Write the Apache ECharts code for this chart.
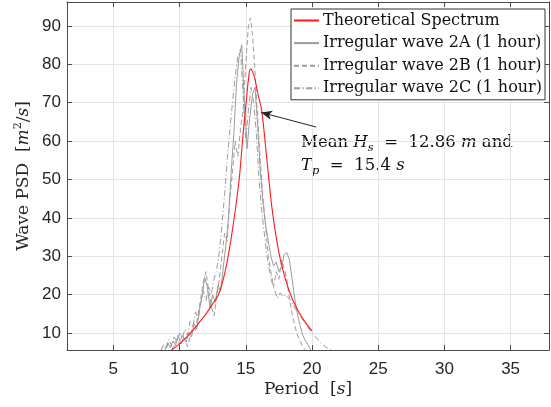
<!DOCTYPE html>
<html>
<head>
<meta charset="utf-8">
<script src="https://cdn.jsdelivr.net/npm/echarts@6/dist/echarts.min.js"></script>
<style>
  html, body { margin: 0; padding: 0; background: #fff; }
  #chart { width: 551px; height: 407px; }
</style>
</head>
<body>
<div id="chart"></div>
<script>
// Axis extents and tick positions
const periodRange = [1.5, 37.9];
const psdRange = [5.6, 96.2];
const periodTicks = [5, 10, 15, 20, 25, 30, 35];
const psdTicks = [10, 20, 30, 40, 50, 60, 70, 80, 90];

// Theoretical spectrum: period [s] and PSD [m^2/s]
const theoryPeriod = [9.4, 10.0, 10.5, 11.0, 11.5, 12.0, 12.5, 13.0, 13.5, 14.0, 14.5, 14.8, 15.0, 15.2, 15.35, 15.5, 15.7, 15.9, 16.2, 16.6, 17.0, 17.5, 18.0, 18.5, 19.0, 19.5, 20.0];
const theoryPsd    = [5.6, 7.2, 8.8, 10.7, 12.8, 15.0, 17.6, 20.5, 27.0, 37.0, 50.0, 62.0, 69.0, 76.0, 78.8, 78.2, 76.0, 72.5, 68.0, 55.0, 42.0, 31.0, 24.0, 19.0, 15.5, 12.8, 10.6];

// Irregular wave 2A (1 hour)
const wave2APeriod = [8.9, 9.1, 9.3, 9.5, 9.7, 9.9, 10.1, 10.3, 10.5, 10.7, 10.9, 11.1, 11.3, 11.5, 11.7, 11.9, 12.1, 12.3, 12.5, 12.7, 12.9, 13.1, 13.3, 13.5, 13.7, 13.9, 14.1, 14.3, 14.5, 14.7, 14.9, 15.1, 15.3, 15.5, 15.7, 15.9, 16.1, 16.3, 16.5, 16.7, 16.9, 17.1, 17.3, 17.5, 17.7, 17.9, 18.1, 18.3, 18.5, 18.7, 18.9, 19.1, 19.3, 19.5, 19.7, 19.9];
const wave2APsd    = [5.7, 7.5, 6.2, 8.0, 6.8, 9.5, 7.2, 8.8, 7.6, 10.2, 9.0, 12.5, 11.0, 16.0, 19.5, 24.5, 22.0, 16.5, 20.0, 18.0, 22.5, 21.0, 27.0, 33.0, 40.0, 52.0, 62.0, 75.0, 82.0, 85.0, 70.0, 58.0, 66.0, 72.0, 74.0, 64.0, 52.0, 44.0, 38.0, 34.0, 30.0, 27.5, 28.5, 26.0, 27.0, 30.5, 31.0, 29.0, 24.0, 19.0, 15.0, 12.0, 9.5, 8.0, 7.0, 5.6];

// Irregular wave 2B (1 hour)
const wave2BPeriod = [9.4, 9.6, 9.8, 10.0, 10.2, 10.4, 10.6, 10.8, 11.0, 11.2, 11.4, 11.6, 11.8, 12.0, 12.2, 12.4, 12.6, 12.8, 13.0, 13.2, 13.4, 13.6, 13.8, 14.0, 14.2, 14.4, 14.6, 14.8, 15.0, 15.2, 15.35, 15.5, 15.7, 15.9, 16.1, 16.3, 16.5, 16.7, 16.9, 17.1, 17.3, 17.5, 17.7, 17.9, 18.1, 18.3, 18.5, 18.7, 18.9, 19.1, 19.3, 19.5];
const wave2BPsd    = [5.6, 6.8, 8.5, 7.0, 9.8, 8.2, 6.5, 9.0, 12.0, 10.5, 15.0, 19.0, 23.5, 26.0, 21.0, 17.0, 14.5, 19.0, 24.0, 30.0, 36.0, 34.0, 45.0, 52.0, 60.0, 56.0, 63.0, 68.0, 80.0, 90.0, 92.0, 88.0, 78.0, 66.0, 55.0, 45.0, 38.0, 30.0, 26.0, 22.0, 26.0, 24.0, 29.0, 27.0, 24.0, 19.0, 15.0, 12.0, 9.5, 8.0, 6.5, 5.6];

// Irregular wave 2C (1 hour)
const wave2CPeriod = [8.6, 8.8, 9.0, 9.2, 9.4, 9.6, 9.8, 10.0, 10.2, 10.4, 10.6, 10.8, 11.0, 11.2, 11.4, 11.6, 11.8, 12.0, 12.2, 12.4, 12.6, 12.8, 13.0, 13.2, 13.4, 13.6, 13.8, 14.0, 14.2, 14.4, 14.6, 14.8, 15.0, 15.2, 15.4, 15.6, 15.8, 16.0, 16.2, 16.4, 16.6, 16.8, 17.0, 17.2, 17.4, 17.6, 17.8, 18.0, 18.4, 18.8, 19.2, 19.6, 20.0, 20.4, 20.8, 21.2, 21.6];
const wave2CPsd    = [5.6, 7.0, 5.8, 8.4, 6.6, 9.0, 7.8, 10.0, 8.5, 11.0, 9.4, 13.0, 11.5, 15.5, 13.5, 18.0, 21.0, 18.5, 22.0, 20.0, 24.0, 26.5, 31.0, 38.0, 46.0, 55.0, 63.0, 70.0, 77.0, 82.0, 84.0, 72.0, 60.0, 68.0, 74.0, 70.0, 62.0, 50.0, 42.0, 36.0, 30.0, 26.0, 23.0, 21.0, 19.0, 20.5, 19.5, 20.0, 18.5, 16.0, 14.0, 12.0, 10.0, 8.5, 7.0, 6.0, 5.4];

// Annotation arrow: tail and head in (period, PSD)
const arrowTail = [20.32, 63.65];
const arrowHead = [16.16, 67.45];

const zip = (xs, ys) => xs.map((x, i) => [x, ys[i]]);

const axisColor = '#4a4a4a';
const gridColor = '#e4e4e4';
const tickFont = 'Liberation Sans, Arial, sans-serif';
const serif = 'DejaVu Serif, serif';

function boxAxis(range, ticks, pos, withLabels, labelMargin) {
  return {
    type: 'value',
    position: pos,
    min: range[0],
    max: range[1],
    axisLine: { show: true, onZero: false, lineStyle: { color: axisColor, width: 1 } },
    axisTick: { show: true, inside: true, length: 5, customValues: ticks, lineStyle: { color: axisColor, width: 1 } },
    axisLabel: withLabels
      ? { show: true, customValues: ticks, margin: labelMargin, color: '#262626', fontFamily: tickFont, fontSize: 17 }
      : { show: false },
    splitLine: withLabels
      ? { show: true, lineStyle: { color: gridColor, width: 1 } }
      : { show: false }
  };
}

const chart = echarts.init(document.getElementById('chart'), null, { renderer: 'canvas' });

const grayLine = '#9c9c9c';

chart.setOption({
  animation: false,
  backgroundColor: '#ffffff',
  grid: { left: 67, right: 2, top: 2, bottom: 57, containLabel: false },
  xAxis: [
    boxAxis(periodRange, periodTicks, 'bottom', true, 11),
    boxAxis(periodRange, periodTicks, 'top', false, 0)
  ],
  yAxis: [
    boxAxis(psdRange, psdTicks, 'left', true, 6),
    boxAxis(psdRange, psdTicks, 'right', false, 0)
  ],
  legend: {
    orient: 'vertical',
    left: 291,
    top: 9,
    padding: [1.5, 3, 1.5, 2],
    itemWidth: 25,
    itemHeight: 14,
    itemGap: 2.6,
    itemStyle: { opacity: 0 },
    backgroundColor: '#ffffff',
    borderColor: '#333333',
    borderWidth: 1,
    textStyle: { fontFamily: serif, fontSize: 16, color: '#111', lineHeight: 20, padding: [0, 0, 0, -1] },
    data: ['Theoretical Spectrum', 'Irregular wave 2A (1 hour)', 'Irregular wave 2B (1 hour)', 'Irregular wave 2C (1 hour)']
  },
  series: [
    {
      name: 'Irregular wave 2A (1 hour)',
      type: 'line',
      symbol: 'none',
      data: zip(wave2APeriod, wave2APsd),
      lineStyle: { color: grayLine, width: 1, type: 'solid' },
      itemStyle: { color: grayLine },
      z: 2
    },
    {
      name: 'Irregular wave 2B (1 hour)',
      type: 'line',
      symbol: 'none',
      data: zip(wave2BPeriod, wave2BPsd),
      lineStyle: { color: grayLine, width: 1, type: [5, 3] },
      itemStyle: { color: grayLine },
      z: 2
    },
    {
      name: 'Irregular wave 2C (1 hour)',
      type: 'line',
      symbol: 'none',
      data: zip(wave2CPeriod, wave2CPsd),
      lineStyle: { color: grayLine, width: 1, type: [6, 2.5, 1.2, 2.5] },
      itemStyle: { color: grayLine },
      z: 2
    },
    {
      name: 'Theoretical Spectrum',
      type: 'line',
      symbol: 'none',
      smooth: 0.35,
      data: zip(theoryPeriod, theoryPsd),
      lineStyle: { color: '#ff1a1a', width: 1.1 },
      itemStyle: { color: '#ff1a1a' },
      z: 3,
      markLine: {
        silent: true,
        symbol: ['none', 'arrow'],
        symbolSize: [7, 11],
        label: { show: false },
        lineStyle: { color: '#262626', width: 1, type: 'solid' },
        data: [[{ coord: arrowTail }, { coord: arrowHead }]]
      }
    }
  ],
  graphic: [
    {
      type: 'text',
      x: 308, y: 390,
      style: {
        text: '{n|Period  [}{i|s}{n|]}',
        align: 'center', verticalAlign: 'middle',
        rich: {
          n: { fontFamily: serif, fontSize: 17, fill: '#262626' },
          i: { fontFamily: serif, fontSize: 17, fontStyle: 'italic', fill: '#262626' }
        }
      }
    },
    {
      type: 'text',
      x: 24, y: 176,
      rotation: Math.PI / 2,
      style: {
        text: '{n|Wave PSD  [}{i|m}{sup|2}{n|/}{i|s}{n|]}',
        align: 'center', verticalAlign: 'middle',
        rich: {
          n: { fontFamily: serif, fontSize: 17, fill: '#262626', lineHeight: 22 },
          i: { fontFamily: serif, fontSize: 17, fontStyle: 'italic', fill: '#262626', lineHeight: 22 },
          sup: { fontFamily: serif, fontSize: 11, fill: '#262626', lineHeight: 11, verticalAlign: 'top' }
        }
      }
    },
    {
      type: 'text',
      x: 301, y: 131,
      style: {
        text: '{n|Mean }{i|H}{sub|s}{n|  =  12.86 }{i|m}{n| and}\n{i|T}{sub|p}{n|  =  15.4 }{i|s}',
        align: 'left', verticalAlign: 'top',
        rich: {
          n: { fontFamily: serif, fontSize: 16.5, fill: '#111', lineHeight: 23 },
          i: { fontFamily: serif, fontSize: 16.5, fontStyle: 'italic', fill: '#111', lineHeight: 23 },
          sub: { fontFamily: serif, fontSize: 11.5, fontStyle: 'italic', fill: '#111', lineHeight: 11, verticalAlign: 'bottom' }
        }
      }
    }
  ]
});
</script>
</body>
</html>
